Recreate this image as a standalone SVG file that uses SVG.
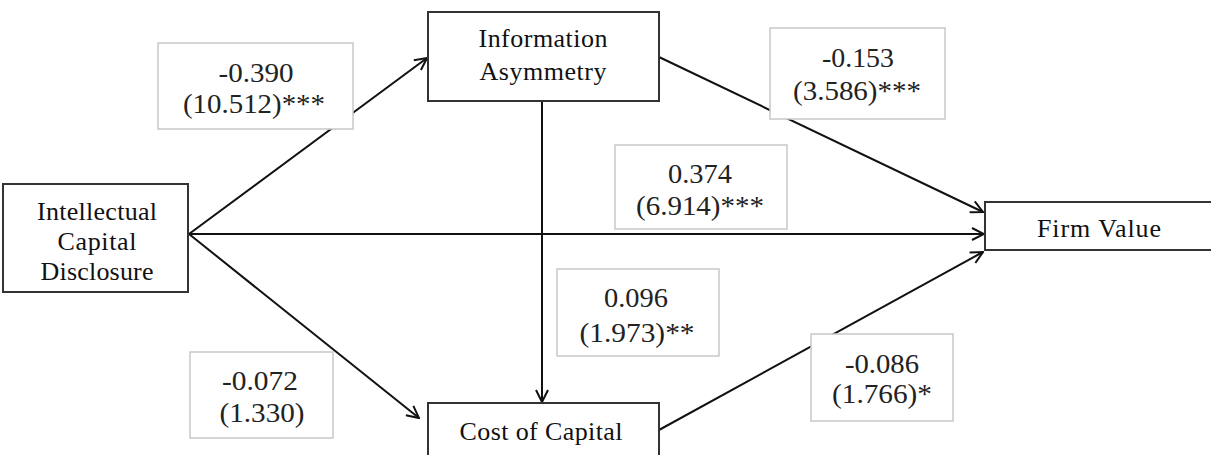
<svg xmlns="http://www.w3.org/2000/svg" width="1211" height="455" viewBox="0 0 1211 455">
<style>
.node{fill:#fff;stroke:#333;stroke-width:2}
.lbl{fill:#fff;stroke:#c8c8c8;stroke-width:1.5}
.nt{font-family:"Liberation Serif",serif;font-size:26px;fill:#111;text-anchor:middle}
.lt{font-family:"Liberation Serif",serif;font-size:28px;fill:#222;text-anchor:middle}
.edge{stroke:#111;stroke-width:2;fill:none;marker-end:url(#arr)}
</style>
<defs>
<marker id="arr" viewBox="0 0 14 14" refX="13" refY="7" markerWidth="14" markerHeight="14" markerUnits="userSpaceOnUse" orient="auto">
<path d="M1,1 L13,7 L1,13" fill="none" stroke="#111" stroke-width="2"/>
</marker>
</defs>
<rect width="1211" height="455" fill="#fff"/>
<g id="connectors">
<line class="edge" x1="189" y1="234" x2="427" y2="58"/>
<line class="edge" x1="189" y1="234" x2="984" y2="234"/>
<line class="edge" x1="189" y1="234" x2="419" y2="418"/>
<line class="edge" x1="542" y1="101" x2="542" y2="402"/>
<line class="edge" x1="659" y1="57" x2="983" y2="212"/>
<line class="edge" x1="659" y1="430" x2="983" y2="252"/>
</g>
<g id="node-icd">
<rect class="node" x="3" y="184" width="185" height="108"/>
<text class="nt" x="97" y="220" textLength="120" lengthAdjust="spacing">Intellectual</text>
<text class="nt" x="97" y="250" textLength="79" lengthAdjust="spacing">Capital</text>
<text class="nt" x="97" y="280" textLength="113" lengthAdjust="spacing">Disclosure</text>
</g>
<g id="node-ia">
<rect class="node" x="428" y="12" width="231" height="89"/>
<text class="nt" x="543" y="47" textLength="129" lengthAdjust="spacing">Information</text>
<text class="nt" x="543" y="80" textLength="127" lengthAdjust="spacing">Asymmetry</text>
</g>
<g id="node-fv">
<rect class="node" x="985" y="202" width="240" height="48"/>
<text class="nt" x="1099" y="237" textLength="124" lengthAdjust="spacing">Firm Value</text>
</g>
<g id="node-coc">
<rect class="node" x="428" y="403" width="231" height="70"/>
<text class="nt" x="541" y="440" textLength="163" lengthAdjust="spacing">Cost of Capital</text>
</g>
<g id="label-icd-ia">
<rect class="lbl" x="158" y="43" width="195" height="86"/>
<text class="lt" x="256" y="82" textLength="75" lengthAdjust="spacingAndGlyphs">-0.390</text>
<text class="lt" x="254" y="113" textLength="142" lengthAdjust="spacingAndGlyphs">(10.512)***</text>
</g>
<g id="label-ia-fv">
<rect class="lbl" x="770" y="28" width="175" height="91"/>
<text class="lt" x="858" y="67" textLength="72" lengthAdjust="spacingAndGlyphs">-0.153</text>
<text class="lt" x="857" y="100" textLength="128" lengthAdjust="spacingAndGlyphs">(3.586)***</text>
</g>
<g id="label-icd-fv">
<rect class="lbl" x="615" y="145" width="172" height="84"/>
<text class="lt" x="700" y="183" textLength="64" lengthAdjust="spacingAndGlyphs">0.374</text>
<text class="lt" x="700" y="215" textLength="128" lengthAdjust="spacingAndGlyphs">(6.914)***</text>
</g>
<g id="label-ia-coc">
<rect class="lbl" x="557" y="269" width="162" height="87"/>
<text class="lt" x="636" y="307" textLength="64" lengthAdjust="spacingAndGlyphs">0.096</text>
<text class="lt" x="637" y="342" textLength="115" lengthAdjust="spacingAndGlyphs">(1.973)**</text>
</g>
<g id="label-icd-coc">
<rect class="lbl" x="190" y="352" width="143" height="86"/>
<text class="lt" x="260" y="390" textLength="76" lengthAdjust="spacingAndGlyphs">-0.072</text>
<text class="lt" x="262" y="422" textLength="85" lengthAdjust="spacingAndGlyphs">(1.330)</text>
</g>
<g id="label-coc-fv">
<rect class="lbl" x="811" y="334" width="142" height="87"/>
<text class="lt" x="882" y="373" textLength="74" lengthAdjust="spacingAndGlyphs">-0.086</text>
<text class="lt" x="882" y="403" textLength="100" lengthAdjust="spacingAndGlyphs">(1.766)*</text>
</g>
</svg>
